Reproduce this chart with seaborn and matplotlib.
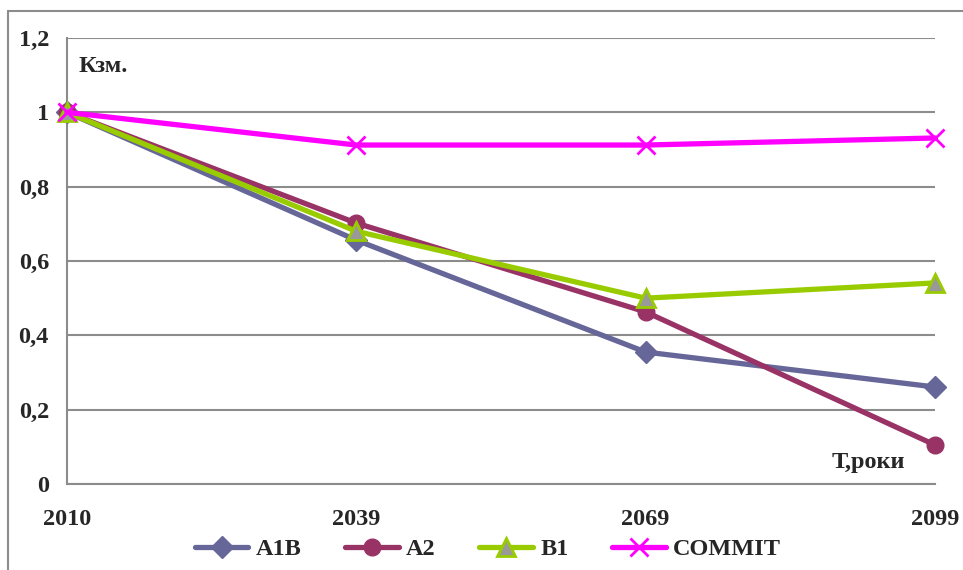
import matplotlib
matplotlib.use('Agg')
import matplotlib.pyplot as plt
import seaborn as sns
import pandas as pd
from matplotlib.lines import Line2D
from matplotlib.ticker import FuncFormatter

years = ['2010', '2039', '2069', '2099']
a1b = [1.0, 0.656, 0.355, 0.261]
a2 = [1.0, 0.702, 0.463, 0.105]
b1 = [1.0, 0.680, 0.500, 0.541]
commit = [1.0, 0.912, 0.912, 0.931]

sns.set_style('white')
plt.rcParams['font.family'] = ['Liberation Serif', 'DejaVu Serif']
plt.rcParams['font.weight'] = 'bold'

FS = 17.5

fig = plt.figure(figsize=(9.63, 5.7), dpi=100)
ax = fig.add_axes([67/963, 1-484/570, (935-67)/963, (484-38)/570])

series = [
    ('A1B', a1b, '#666699', 'D', '#666699', '#666699', 11),
    ('A2', a2, '#993366', 'o', '#993366', '#993366', 12),
    ('B1', b1, '#99CC00', '^', '#999999', '#99CC00', 13),
    ('COMMIT', commit, '#FF00FF', 'x', '#FF00FF', '#FF00FF', 13),
]

for name, vals, col, mk, fc, ec, ms in series:
    df = pd.DataFrame({'year': years, 'v': vals})
    sns.lineplot(data=df, x='year', y='v', ax=ax, color=col, linewidth=3.8,
                 marker=mk, markersize=ms, markerfacecolor=fc, markeredgecolor=ec,
                 markeredgewidth=2 if mk in ('x', '^') else 1, clip_on=False,
                 label=name, sort=False, zorder=3)

ax.set_xlim(0, 3)
ax.set_ylim(0, 1.2)
ax.set_yticks([0, 0.2, 0.4, 0.6, 0.8, 1.0, 1.2])
ax.yaxis.set_major_formatter(FuncFormatter(lambda v, p: ('%g' % round(v, 1)).replace('.', ',')))
ax.grid(axis='y', color='#8c8c8c', linewidth=1.5)
ax.set_axisbelow(True)
for s in ['top', 'right']:
    ax.spines[s].set_visible(False)
for s in ['left', 'bottom']:
    ax.spines[s].set_color('#8c8c8c')
    ax.spines[s].set_linewidth(1.5)
ax.tick_params(axis='both', which='major', direction='out', length=8, width=1.5,
               color='#8c8c8c', labelsize=FS, pad=5)
ax.tick_params(axis='x', pad=10)
for lbl in ax.get_xticklabels() + ax.get_yticklabels():
    lbl.set_fontweight('bold')
ax.set_xlabel('')
ax.set_ylabel('')

ax.text(0.013, 0.935, 'Кзм.', transform=ax.transAxes, fontsize=FS, fontweight='bold',
        va='center', ha='left')
ax.text(0.966, 0.049, 'Т,роки', transform=ax.transAxes, fontsize=FS, fontweight='bold',
        va='center', ha='right')

ax.legend(loc='center', bbox_to_anchor=(0.485, -(549-484)/446.0), ncol=4, frameon=False,
          handlelength=2.2, columnspacing=1.8, handletextpad=0.3,
          prop={'weight': 'bold', 'size': FS})

fig.add_artist(Line2D([8/963, 8/963], [0, 1-11/570], color='#8c8c8c', linewidth=1.5))
fig.add_artist(Line2D([8/963, 1], [1-11/570, 1-11/570], color='#8c8c8c', linewidth=1.5))

fig.savefig('out.png', dpi=100)
